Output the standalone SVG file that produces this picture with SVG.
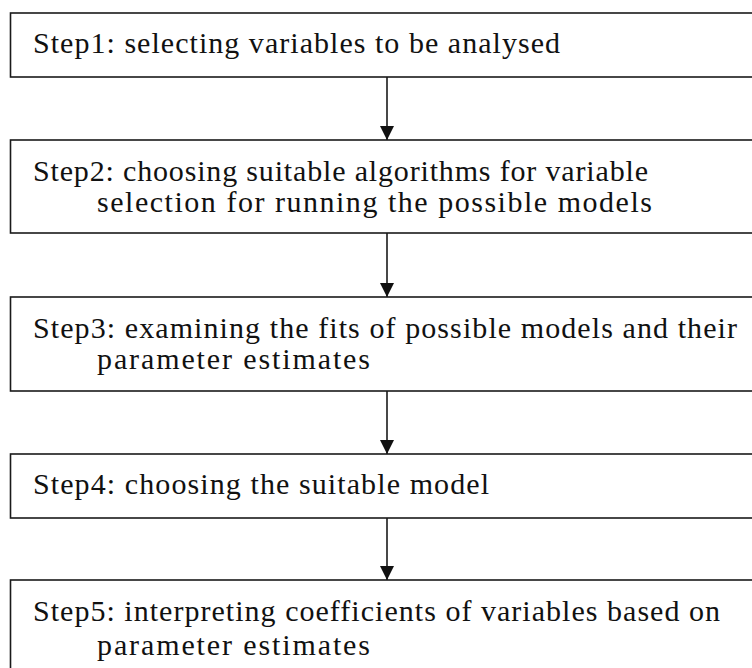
<svg xmlns="http://www.w3.org/2000/svg" width="752" height="668" viewBox="0 0 752 668">
  <style>
    .box { fill: #ffffff; stroke: #1a1a1a; stroke-width: 1.6; }
    .label { font-family: 'Liberation Serif', Tinos, 'Times New Roman', Times, serif; font-size: 30px; fill: #111111; }
    .link { stroke: #1a1a1a; stroke-width: 1.6; fill: none; marker-end: url(#head); }
  </style>
  <defs>
    <marker id="head" viewBox="0 0 14 16" refX="14" refY="7" markerWidth="14" markerHeight="16" markerUnits="userSpaceOnUse" orient="auto">
      <path d="M0,0 L14,7 L0,14 Z" fill="#111111"/>
    </marker>
  </defs>
  <rect width="752" height="668" fill="#ffffff"/>

  <g id="connectors">
    <line class="link" x1="387" y1="77" x2="387" y2="140"/>
    <line class="link" x1="387" y1="233" x2="387" y2="297"/>
    <line class="link" x1="387" y1="391" x2="387" y2="454"/>
    <line class="link" x1="387" y1="518" x2="387" y2="580"/>
  </g>

  <g id="step1">
    <rect class="box" x="10.5" y="13" width="760" height="64"/>
    <text class="label" font-family="Liberation Serif, serif" x="33" y="53" textLength="527" lengthAdjust="spacing">Step1: selecting variables to be analysed</text>
  </g>

  <g id="step2">
    <rect class="box" x="10.5" y="140" width="760" height="93"/>
    <text class="label" x="33" y="181" textLength="615" lengthAdjust="spacing">Step2: choosing suitable algorithms for variable</text>
    <text class="label" x="97" y="212" textLength="555" lengthAdjust="spacing">selection for running the possible models</text>
  </g>

  <g id="step3">
    <rect class="box" x="10.5" y="297" width="760" height="94"/>
    <text class="label" x="33" y="338" textLength="704" lengthAdjust="spacing">Step3: examining the fits of possible models and their</text>
    <text class="label" x="97" y="369" textLength="273" lengthAdjust="spacing">parameter estimates</text>
  </g>

  <g id="step4">
    <rect class="box" x="10.5" y="454" width="760" height="64"/>
    <text class="label" x="33" y="494" textLength="456" lengthAdjust="spacing">Step4: choosing the suitable model</text>
  </g>

  <g id="step5">
    <rect class="box" x="10.5" y="580" width="760" height="110"/>
    <text class="label" x="33" y="621" textLength="687" lengthAdjust="spacing">Step5: interpreting coefficients of variables based on</text>
    <text class="label" x="97" y="655" textLength="273" lengthAdjust="spacing">parameter estimates</text>
  </g>
</svg>
